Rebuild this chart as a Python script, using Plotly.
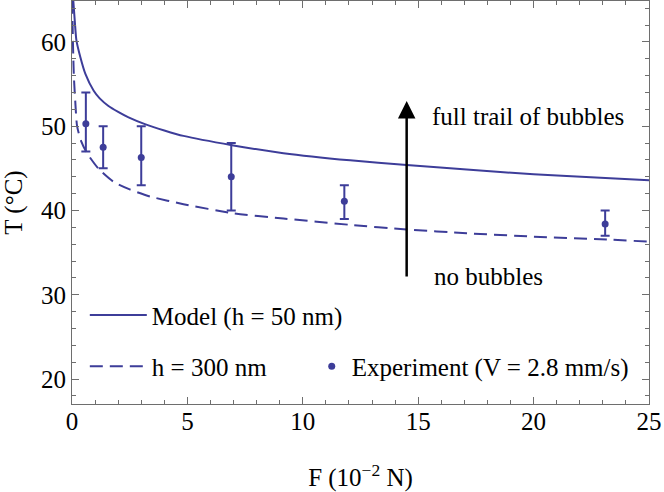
import plotly.graph_objects as go

# ---- data ----
model50_F = [0.056, 0.12, 0.19, 0.36, 0.58, 0.94, 1.2, 1.58, 2.0, 2.45, 3.16, 4.0, 4.83, 6.93, 9.16, 12.05, 14.5, 17.1, 20.0, 22.9, 25.0]
model50_T = [64.9, 62.5, 60.2, 58.2, 56.2, 54.2, 53.3, 52.4, 51.7, 51.05, 50.25, 49.5, 48.85, 47.75, 46.8, 45.95, 45.4, 44.85, 44.3, 43.9, 43.6]

model300_F = [0.01, 0.04, 0.08, 0.14, 0.22, 0.4, 0.65, 1.15, 1.8, 2.5, 3.4, 4.83, 6.93, 9.16, 12.05, 14.5, 17.1, 20.0, 22.9, 25.0]
model300_T = [64.9, 60.0, 56.0, 53.0, 50.0, 48.2, 46.8, 44.95, 43.4, 42.5, 41.65, 40.75, 39.7, 39.05, 38.3, 37.75, 37.3, 36.9, 36.6, 36.3]

exp_F = [0.6, 1.35, 3.0, 6.9, 11.8, 23.1]
exp_T = [50.3, 47.5, 46.3, 44.0, 41.1, 38.4]
exp_hi = [54.0, 50.0, 50.0, 48.0, 43.0, 40.0]
exp_lo = [47.0, 45.0, 43.0, 40.0, 39.0, 37.0]

arrow_F = 14.5
arrow_T_from = 32.0
arrow_T_to = 53.0

label_top = "full trail of bubbles"
label_bottom = "no bubbles"
label_top_pos = (15.5, 51.2)
label_bottom_pos = (15.6, 32.2)

xticks = [0, 5, 10, 15, 20, 25]
yticks = [20, 30, 40, 50, 60]

# ---- styles ----
C = "#3d3d99"
FONT = "Liberation Serif"
FS = 25
AXC = "#6e6e6e"

fig = go.Figure()

fig.add_trace(go.Scatter(
    x=model50_F, y=model50_T, mode="lines", name="Model (h = 50 nm)",
    line=dict(color=C, width=2, shape="spline", smoothing=0.6),
    legend="legend", hoverinfo="skip"))

fig.add_trace(go.Scatter(
    x=model300_F, y=model300_T, mode="lines", name="h = 300 nm",
    line=dict(color=C, width=2, dash="13px,7px", shape="spline", smoothing=0.6),
    legend="legend2", hoverinfo="skip"))

fig.add_trace(go.Scatter(
    x=exp_F, y=exp_T, mode="markers", name="Experiment (V = 2.8 mm/s)",
    marker=dict(color=C, size=7),
    error_y=dict(type="data", symmetric=False,
                 array=[h - t for h, t in zip(exp_hi, exp_T)],
                 arrayminus=[t - l for t, l in zip(exp_T, exp_lo)],
                 color=C, thickness=2, width=4.5),
    legend="legend3", hoverinfo="skip"))

fig.add_annotation(
    x=arrow_F, y=arrow_T_to, ax=arrow_F, ay=arrow_T_from,
    xref="x", yref="y", axref="x", ayref="y",
    text="", showarrow=True, arrowhead=2, arrowsize=1.4, arrowwidth=2.5,
    arrowcolor="black", standoff=0, startstandoff=0)

fig.add_annotation(x=label_top_pos[0], y=label_top_pos[1], text=label_top,
                   xref="x", yref="y", showarrow=False, xanchor="left", yanchor="middle",
                   font=dict(family=FONT, size=FS, color="black"))
fig.add_annotation(x=label_bottom_pos[0], y=label_bottom_pos[1], text=label_bottom,
                   xref="x", yref="y", showarrow=False, xanchor="left", yanchor="middle",
                   font=dict(family=FONT, size=FS, color="black"))

axis_common = dict(
    showline=True, linecolor=AXC, linewidth=1, mirror="allticks",
    ticks="inside", ticklen=7, tickcolor=AXC, tickwidth=1,
    showgrid=False, zeroline=False, automargin=False,
    tickfont=dict(family=FONT, size=FS, color="black"),
)

fig.update_xaxes(
    range=[0, 25], tickvals=xticks, ticktext=[str(v) for v in xticks],
    ticklabelstandoff=-5,
    minor=dict(dtick=1, tick0=0, ticks="inside", ticklen=4, tickcolor=AXC, showgrid=False),
    title=dict(text="F (10<sup>−2</sup> N)", font=dict(family=FONT, size=FS, color="black"), standoff=39),
    **axis_common)
fig.update_yaxes(
    range=[17.05, 64.85], tickvals=yticks, ticktext=[str(v) for v in yticks],
    minor=dict(dtick=2, tick0=0, ticks="inside", ticklen=4, tickcolor=AXC, showgrid=False),
    title=dict(text="T (°C)", font=dict(family=FONT, size=FS, color="black"), standoff=19),
    **axis_common)

leg_font = dict(family=FONT, size=FS, color="black")
fig.update_layout(
    width=664, height=492,
    margin=dict(l=72, r=15, t=1, b=88),
    paper_bgcolor="white", plot_bgcolor="white",
    showlegend=True,
    legend=dict(x=0.0222, y=0.22, xanchor="left", yanchor="middle", itemwidth=57,
                bgcolor="rgba(0,0,0,0)", font=leg_font),
    legend2=dict(x=0.0222, y=0.093, xanchor="left", yanchor="middle", itemwidth=57,
                 bgcolor="rgba(0,0,0,0)", font=leg_font),
    legend3=dict(x=0.4155, y=0.093, xanchor="left", yanchor="middle",
                 bgcolor="rgba(0,0,0,0)", font=leg_font),
)

fig.write_html("out.html", config={"displayModeBar": False},
               post_script="document.body.style.margin='0';")
